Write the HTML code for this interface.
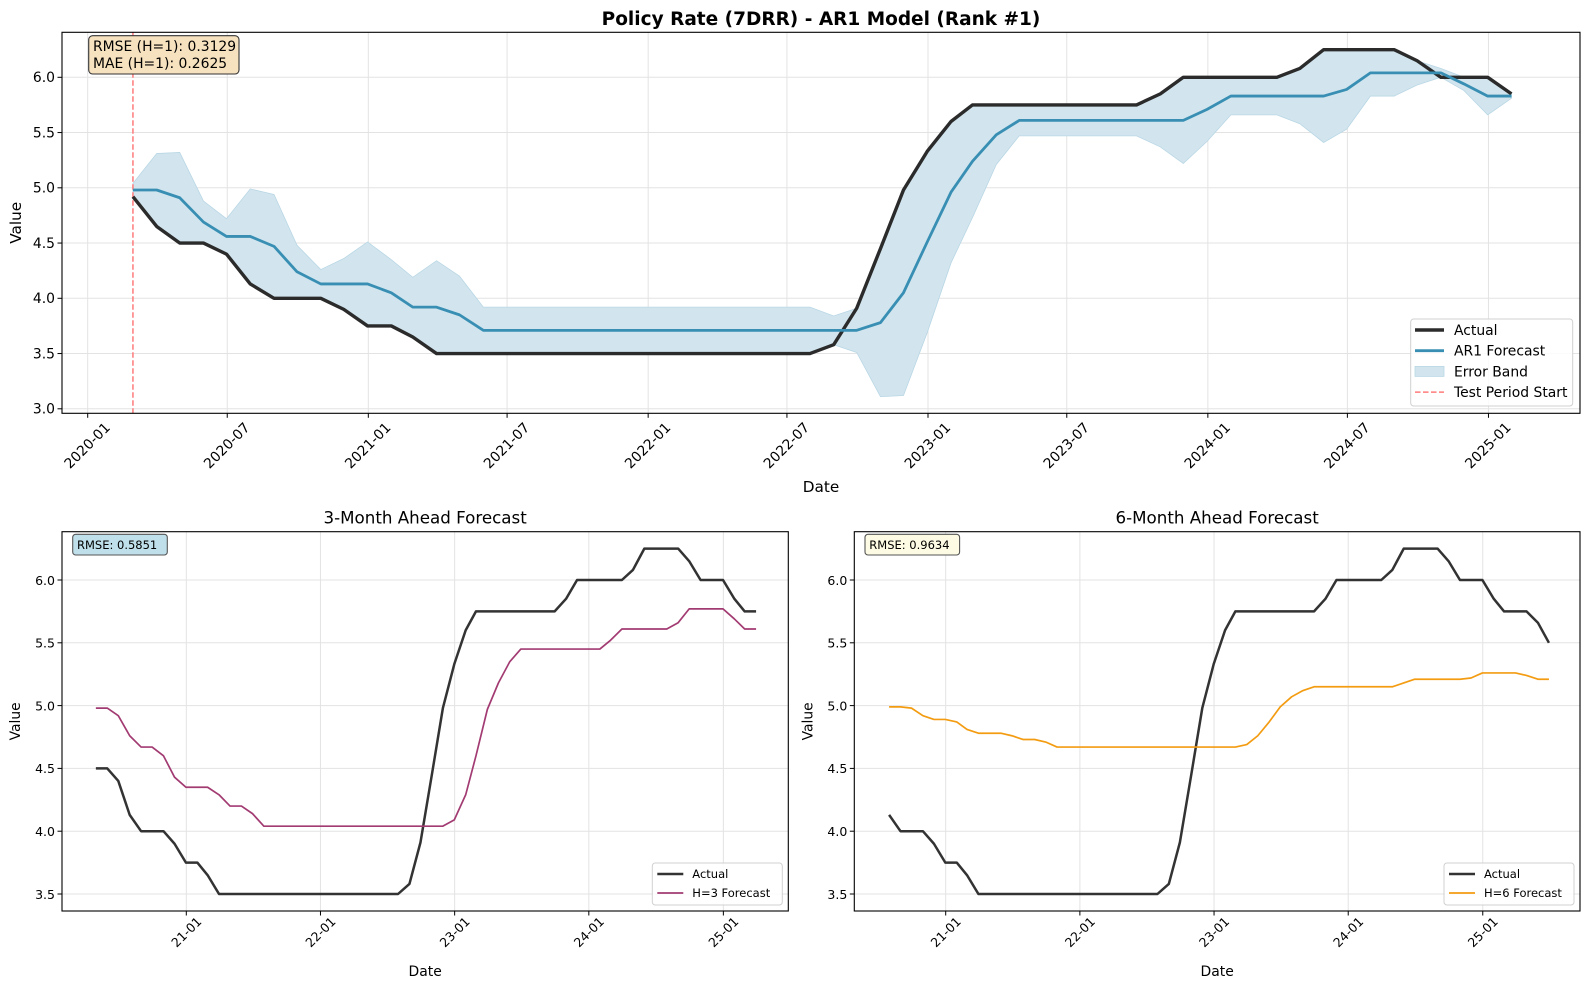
<!DOCTYPE html>
<html><head><meta charset="utf-8"><title>Policy Rate (7DRR) - AR1 Model</title>
<style>
html,body{margin:0;padding:0;background:#fff;}
svg{display:block;font-family:"DejaVu Sans","Liberation Sans",sans-serif;}
</style></head>
<body>
<svg id="fig" width="1589" height="989" viewBox="0 0 1589 989" xmlns="http://www.w3.org/2000/svg">
<rect width="1589" height="989" fill="#fff"/>
<g id="top"></g>
<g id="left"></g>
<g id="right"></g>
</svg>
<script>
// ---- data (monthly, month-end; index 0 = 2020-02) ----
const actualValues = [4.92,4.65,4.50,4.50,4.40,4.13,4.00,4.00,4.00,3.90,3.75,3.75,3.65,3.50,
3.50,3.50,3.50,3.50,3.50,3.50,3.50,3.50,3.50,3.50,3.50,3.50,3.50,3.50,3.50,3.50,
3.58,3.91,4.45,4.98,5.33,5.60,5.75,5.75,5.75,5.75,5.75,5.75,5.75,5.75,5.85,
6.00,6.00,6.00,6.00,6.00,6.08,6.25,6.25,6.25,6.25,6.15,6.00,6.00,6.00,5.85,
5.75,5.75,5.75,5.66,5.50];
const ar1Forecast = [4.98,4.98,4.91,4.69,4.56,4.56,4.47,4.24,4.13,4.13,4.13,4.05,3.92,3.92,3.85,
3.71,3.71,3.71,3.71,3.71,3.71,3.71,3.71,3.71,3.71,3.71,3.71,3.71,3.71,3.71,3.71,3.71,
3.78,4.05,4.51,4.96,5.24,5.48,5.61,5.61,5.61,5.61,5.61,5.61,5.61,5.61,5.71,
5.83,5.83,5.83,5.83,5.83,5.89,6.04,6.04,6.04,6.04,5.94,5.83,5.83];
const h3Forecast = [4.98,4.98,4.92,4.76,4.67,4.67,4.60,4.43,4.35,4.35,4.35,4.29,4.20,4.20,4.14,4.04,
4.04,4.04,4.04,4.04,4.04,4.04,4.04,4.04,4.04,4.04,4.04,4.04,4.04,4.04,4.04,4.04,
4.09,4.29,4.60,4.97,5.18,5.35,5.45,5.45,5.45,5.45,5.45,5.45,5.45,5.45,5.52,
5.61,5.61,5.61,5.61,5.61,5.66,5.77,5.77,5.77,5.77,5.69,5.61,5.61];
const h6Forecast = [4.99,4.99,4.98,4.92,4.89,4.89,4.87,4.81,4.78,4.78,4.78,4.76,4.73,4.73,4.71,
4.67,4.67,4.67,4.67,4.67,4.67,4.67,4.67,4.67,4.67,4.67,4.67,4.67,4.67,4.67,4.67,4.67,
4.69,4.76,4.87,4.99,5.07,5.12,5.15,5.15,5.15,5.15,5.15,5.15,5.15,5.15,5.18,
5.21,5.21,5.21,5.21,5.21,5.22,5.26,5.26,5.26,5.26,5.24,5.21,5.21];
const topXTicks = ["2020-01","2020-07","2021-01","2021-07","2022-01","2022-07","2023-01","2023-07","2024-01","2024-07","2025-01"];
const bottomXTicks = ["21-01","22-01","23-01","24-01","25-01"];
const topYTicks = [3.0,3.5,4.0,4.5,5.0,5.5,6.0];
const bottomYTicks = [3.5,4.0,4.5,5.0,5.5,6.0];
const h3StartIndex = 2;
const h6StartIndex = 5;

const NS = "http://www.w3.org/2000/svg";
function mk(parent, tag, attrs, text){
  const e = document.createElementNS(NS, tag);
  for (const k in attrs) e.setAttribute(k, attrs[k]);
  if (text !== undefined) e.textContent = text;
  parent.appendChild(e);
  return e;
}
const D0 = Date.UTC(2020,0,1);
function dayOfIndex(i){
  const y = 2020 + Math.floor((1+i)/12), m = (1+i)%12;
  return (Date.UTC(y, m+1, 0) - D0)/86400000;
}
function dayOfTick(lbl){
  const p = lbl.split("-"); let y = +p[0]; if (y < 100) y += 2000;
  return (Date.UTC(y, +p[1]-1, 1) - D0)/86400000;
}
function axisX(d0day, x0, perDay){ return d => x0 + (d - d0day)*perDay; }
function axisY(v0, y0, perUnit){ return v => y0 + (v0 - v)*perUnit; }

function frame(g, L, T, R, B, xTicks, yTicks, X, Y){
  const grid = mk(g,"g",{});
  
  
  yTicks.forEach(v=>{
    mk(grid,"line",{x1:L,x2:R,y1:Y(v),y2:Y(v),stroke:"#e3e3e3","stroke-width":1});
  });
  xTicks.forEach(t=>{
    const x = X(dayOfTick(t));
    mk(grid,"line",{x1:x,x2:x,y1:T,y2:B,stroke:"#e3e3e3","stroke-width":1});
  });
  return grid;
}
function axesDecor(g, L, T, R, B, xTicks, yTicks, X, Y, tickFont, xLabelCY){
  mk(g,"rect",{x:L,y:T,width:R-L,height:B-T,fill:"none",stroke:"#000","stroke-width":1.1});
  yTicks.forEach(v=>{
    const y = Y(v);
    mk(g,"line",{x1:L-4.5,x2:L,y1:y,y2:y,stroke:"#000","stroke-width":1});
    const t = mk(g,"text",{x:L-7,y:y+4.8,"text-anchor":"end","font-size":tickFont,fill:"#000"}, v.toFixed(1));
    
    
  });
  xTicks.forEach(lbl=>{
    const x = X(dayOfTick(lbl));
    mk(g,"line",{x1:x,x2:x,y1:B,y2:B+4.5,stroke:"#000","stroke-width":1});
    const t = mk(g,"text",{x:x,y:xLabelCY,"text-anchor":"middle","dominant-baseline":"central","font-size":tickFont,fill:"#000",transform:`rotate(-45 ${x} ${xLabelCY})`}, lbl);
    
    
  });
}
function linePath(vals, startIdx, X, Y){
  return vals.map((v,k)=>(k?"L":"M")+X(dayOfIndex(startIdx+k)).toFixed(2)+" "+Y(v).toFixed(2)).join(" ");
}

// ================= TOP CHART =================
(function(){
  const g = document.getElementById("top");
  const L=62, T=32.3, R=1580, B=413.3;
  const X = axisX(0, 87.7, 0.7667);
  const Y = axisY(6.0, 77.3, 110.5);
  frame(g,L,T,R,B,topXTicks,topYTicks,X,Y);
  const n = ar1Forecast.length;
  const act = actualValues.slice(0,n);
  const up = ar1Forecast.map((f,i)=>f+Math.abs(act[i]-f));
  const lo = ar1Forecast.map((f,i)=>f-Math.abs(act[i]-f));
  let d = up.map((v,i)=>(i?"L":"M")+X(dayOfIndex(i)).toFixed(2)+" "+Y(v).toFixed(2)).join(" ");
  for (let i=n-1;i>=0;i--) d += " L"+X(dayOfIndex(i)).toFixed(2)+" "+Y(lo[i]).toFixed(2);
  const band = mk(g,"path",{d:d+" Z",fill:"#d2e5ee",stroke:"#b9d7e5","stroke-width":0.8});
  
  
  const tx = X(dayOfIndex(0));
  const vline = mk(g,"line",{x1:tx,x2:tx,y1:T,y2:B,stroke:"#ff7b7b","stroke-width":1.5,"stroke-dasharray":"5.5 2.5"});
  
  
  const a = mk(g,"path",{d:linePath(act,0,X,Y),fill:"none",stroke:"#2b2b2b","stroke-width":3.4,"stroke-linejoin":"round"});
  
  
  const f = mk(g,"path",{d:linePath(ar1Forecast,0,X,Y),fill:"none",stroke:"#388fb3","stroke-width":2.8,"stroke-linejoin":"round"});
  
  
  axesDecor(g,L,T,R,B,topXTicks,topYTicks,X,Y,13.9,446);
  const ttl = mk(g,"text",{x:(L+R)/2,y:25,"text-anchor":"middle","font-size":18.5,"font-weight":"bold"},"Policy Rate (7DRR) - AR1 Model (Rank #1)");
  
  
  const xl = mk(g,"text",{x:(L+R)/2,y:492,"text-anchor":"middle","font-size":15.3},"Date");
  
  
  const yl = mk(g,"text",{x:21,y:(T+B)/2,"text-anchor":"middle","font-size":15.3,transform:`rotate(-90 21 ${(T+B)/2})`},"Value");
  
  
  const sb = mk(g,"g",{});
  
  
  mk(sb,"rect",{x:88.7,y:35.7,width:150.3,height:38.3,rx:4,fill:"#f7e2bf",stroke:"#333","stroke-width":1.1});
  mk(sb,"text",{x:93,y:51,"font-size":13.9},"RMSE (H=1): 0.3129");
  mk(sb,"text",{x:93,y:68,"font-size":13.9},"MAE (H=1): 0.2625");
  const lg = mk(g,"g",{});
  
  
  mk(lg,"rect",{x:1410.7,y:319,width:162,height:87,rx:3,fill:"#fff","fill-opacity":0.85,stroke:"#d0d0d0","stroke-width":1});
  const items=[["Actual","line","#2b2b2b",3.4],["AR1 Forecast","line","#388fb3",2.8],["Error Band","rect","#d2e5ee",0],["Test Period Start","dash","#ff7b7b",1.5]];
  items.forEach((it,k)=>{
    const cy = 330+k*20.7;
    const e = mk(lg,"g",{});
    
    
    if(it[1]==="line") mk(e,"line",{x1:1415,x2:1444,y1:cy,y2:cy,stroke:it[2],"stroke-width":it[3]});
    else if(it[1]==="rect") mk(e,"rect",{x:1415,y:cy-5,width:29,height:10,fill:it[2],stroke:"#b9d7e5","stroke-width":0.8});
    else mk(e,"line",{x1:1415,x2:1444,y1:cy,y2:cy,stroke:it[2],"stroke-width":it[3],"stroke-dasharray":"5.5 2.5"});
    mk(e,"text",{x:1454,y:cy+5,"font-size":13.9},it[0]);
  });
})();

// ================= BOTTOM CHARTS =================
function bottomChart(id, L, R, tick21x, forecast, startIdx, color, title, rmse, boxFill, legendLabel, fName){
  const g = document.getElementById(id);
  const T=531.7, B=911;
  const X = axisX(dayOfTick("21-01"), tick21x, 0.3676);
  const Y = axisY(6.0, 580, 125.6);
  frame(g,L,T,R,B,bottomXTicks,bottomYTicks,X,Y);
  const act = actualValues.slice(startIdx, startIdx+forecast.length);
  const a = mk(g,"path",{d:linePath(act,startIdx,X,Y),fill:"none",stroke:"#333","stroke-width":2.5,"stroke-linejoin":"round"});
  
  
  const f = mk(g,"path",{d:linePath(forecast,startIdx,X,Y),fill:"none",stroke:color,"stroke-width":1.7,"stroke-linejoin":"round"});
  
  
  axesDecor(g,L,T,R,B,bottomXTicks,bottomYTicks,X,Y,12.5,932);
  const ttl = mk(g,"text",{x:(L+R)/2,y:523.3,"text-anchor":"middle","font-size":16.7},title);
  
  
  const xl = mk(g,"text",{x:(L+R)/2,y:976,"text-anchor":"middle","font-size":13.9},"Date");
  
  
  const yx = L-42;
  const yl = mk(g,"text",{x:yx,y:(T+B)/2,"text-anchor":"middle","font-size":13.9,transform:`rotate(-90 ${yx} ${(T+B)/2})`},"Value");
  
  
  const bx = mk(g,"g",{});
  
  
  mk(bx,"rect",{x:L+10.7,y:534.3,width:94.6,height:20.7,rx:3,fill:boxFill,stroke:"#555","stroke-width":1.1});
  mk(bx,"text",{x:L+15,y:549,"font-size":11.5},"RMSE: "+rmse);
  const lg = mk(g,"g",{});
  
  
  mk(lg,"rect",{x:R-136,y:863,width:130,height:42,rx:3,fill:"#fff","fill-opacity":0.85,stroke:"#d0d0d0","stroke-width":1});
  [["Actual","#333",2.5],[legendLabel,color,1.7]].forEach((it,k)=>{
    const cy = 874+k*19;
    const e = mk(lg,"g",{});
    
    
    mk(e,"line",{x1:R-131,x2:R-105,y1:cy,y2:cy,stroke:it[1],"stroke-width":it[2]});
    mk(e,"text",{x:R-96,y:cy+4,"font-size":11.5},it[0]);
  });
}
bottomChart("left", 62, 788.3, 186.3, h3Forecast, h3StartIndex, "#a23b72", "3-Month Ahead Forecast", "0.5851", "#bfe0ea", "H=3 Forecast", "h3-forecast-line");
bottomChart("right", 854.3, 1580, 945.7, h6Forecast, h6StartIndex, "#f39c12", "6-Month Ahead Forecast", "0.9634", "#fdfbe3", "H=6 Forecast", "h6-forecast-line");
</script>
</body></html>
